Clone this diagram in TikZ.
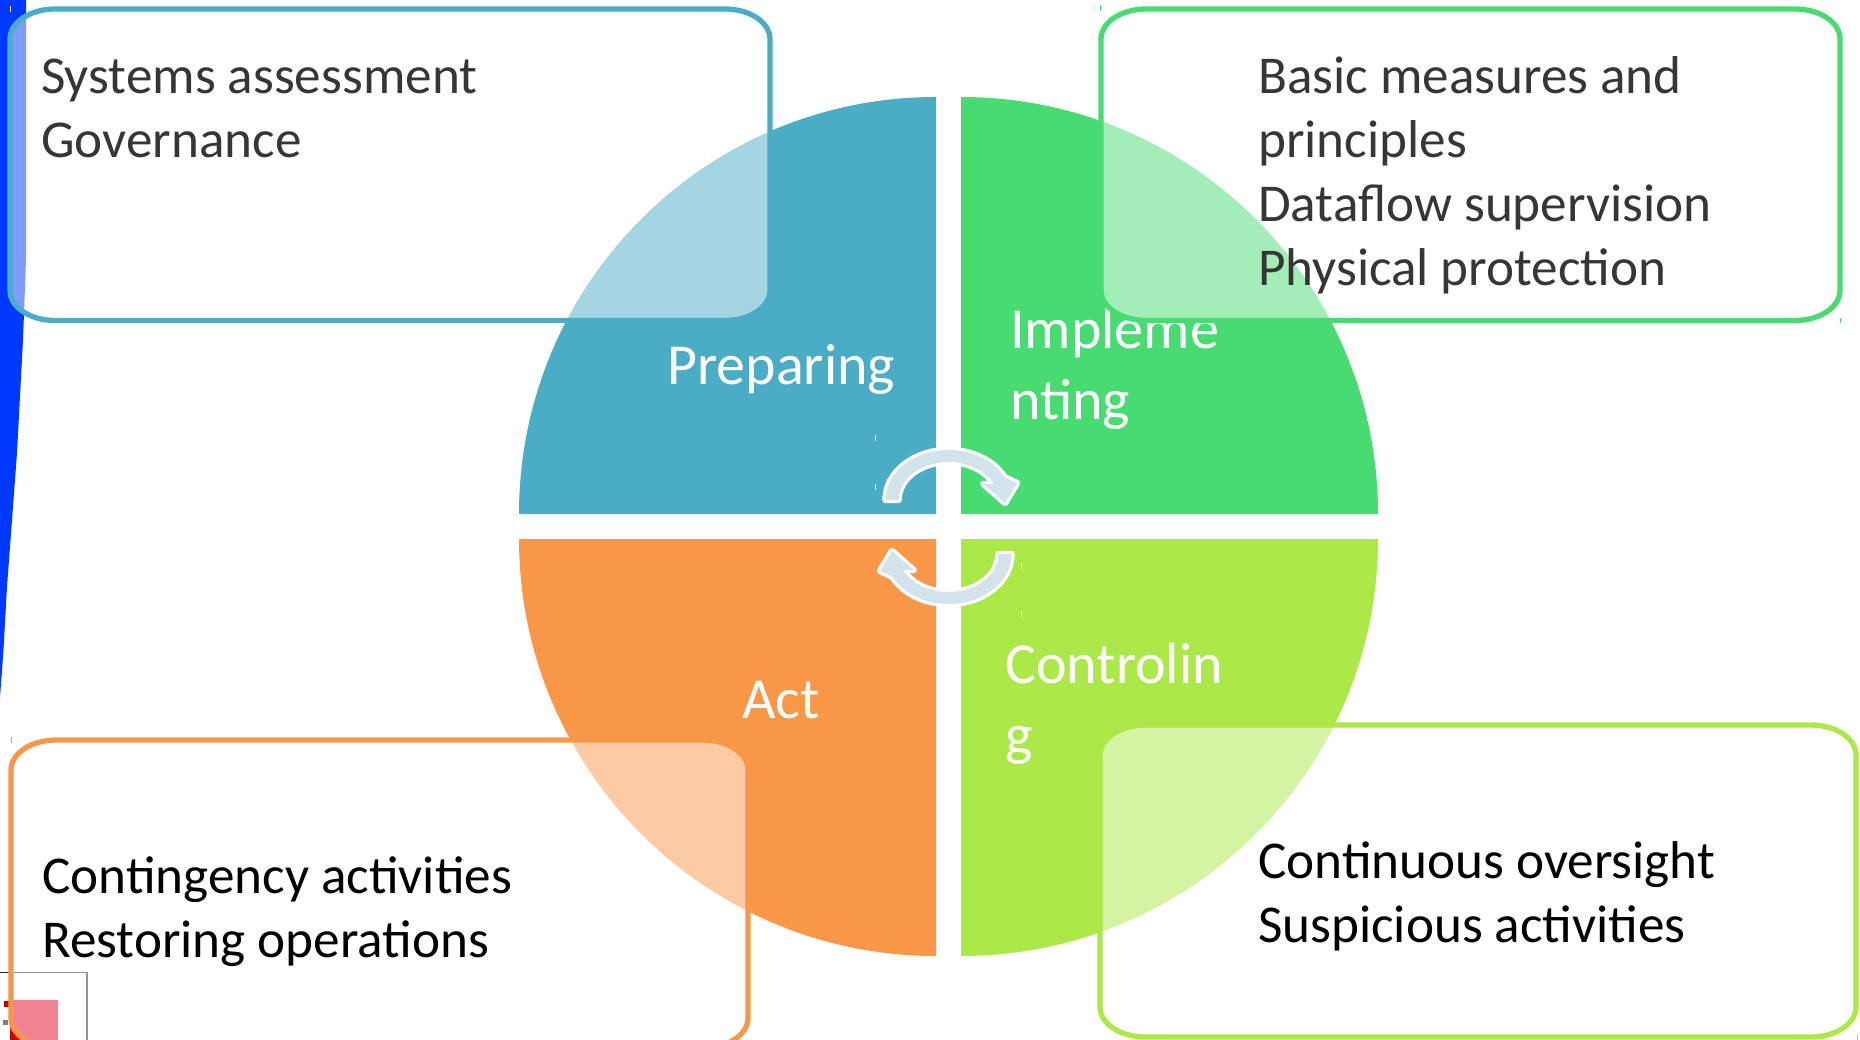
\documentclass[tikz,border=0pt]{standalone}
\usepackage{fontspec}
\setmainfont{Carlito}
\definecolor{cblue}{RGB}{75,172,198}
\definecolor{cgreen}{RGB}{72,219,114}
\definecolor{corange}{RGB}{249,151,72}
\definecolor{clime}{RGB}{172,233,72}
\definecolor{cstripe}{RGB}{0,56,252}
\definecolor{carrow}{RGB}{210,227,235}
\definecolor{ctext}{RGB}{54,54,54}
\definecolor{cpink}{RGB}{225,5,35}
\definecolor{cframe}{RGB}{40,40,40}
\tikzset{
  quadtext/.style={text=white,font=\fontsize{58}{71}\selectfont,align=left,anchor=north west,inner sep=0pt},
  boxtext/.style={font=\fontsize{53.2}{64}\selectfont,align=left,anchor=north west,inner sep=0pt},
  boxline/.style={line width=5.3pt,fill=white,fill opacity=0.5,draw opacity=1},
  cyclehalo/.style={draw=white,line width=6.5pt,line join=round},
  cyclefill/.style={fill=carrow},
  tick/.style={line width=1pt}
}
\newcommand{\softbox}[6]{% x0 y0 x1 y1 color name
  \draw[boxline,draw=#5] (#1+45,#2) -- (#3-45,#2) arc[start angle=270,end angle=360,x radius=45,y radius=30]
   -- (#3,#4-30) arc[start angle=0,end angle=90,x radius=45,y radius=30]
   -- (#1+45,#4) arc[start angle=90,end angle=180,x radius=45,y radius=30]
   -- (#1,#2+30) arc[start angle=180,end angle=270,x radius=45,y radius=30] -- cycle;
  \coordinate (#6) at (#1,#2);
}
\newcommand{\cyclepath}{
  (-63,-27) arc[start angle=180,end angle=333,x radius=63,y radius=50]
  -- (68.5,-44) -- (56.5,-24) -- (35,-43) -- (45.5,-42.8)
  arc[start angle=335.5,end angle=180,x radius=50,y radius=38]
  -- cycle
}
\begin{document}
\begin{tikzpicture}[x=1pt,y=-1pt]
\useasboundingbox (0,0) rectangle (1860,1040);
\clip (0,0) rectangle (1860,1040);
\fill[white] (0,0) rectangle (1860,1040);
% left stripe
\fill[cstripe] (0,0) -- (26,0) -- (26,260) -- (23,340) -- (17,453) -- (12,520) -- (7,587) -- (3.3,653) -- (0,697) -- cycle;
% corner thumbnail
\draw[cframe,line width=1.3pt] (0,972.5) -- (87,972.5) -- (87,1040);
\fill[cpink] (10,1000) rectangle (58,1040);
\fill[red!80!black] (4,1001) rectangle (9,1007);
\fill[gray] (3,1020) rectangle (8,1025);
\fill[red!80!black] (10,1032) rectangle (15,1040);
% quadrants
\fill[cblue] (936,514) -- (519,514) arc[start angle=180,end angle=270,radius=417] -- cycle;
\fill[cgreen] (961,514) -- (961,97) arc[start angle=270,end angle=360,radius=417] -- cycle;
\fill[clime] (961,539) -- (1378,539) arc[start angle=0,end angle=90,radius=417] -- cycle;
\fill[corange] (936,539) -- (936,956) arc[start angle=90,end angle=180,radius=417] -- cycle;
% quadrant labels
\node[quadtext] (qprep) at (667,344) {Preparing};
\node[quadtext] (qimpl) at (1010,308) {Impleme\\nting};
\node[quadtext] (qcont) at (1005,643) {Controlin\\g};
\node[quadtext] (qact) at (742,681) {Act};
% boxes
\softbox{10}{9}{770}{320.5}{cblue}{b1}
\softbox{1101}{9}{1840}{320.5}{cgreen}{b2}
\softbox{11}{740}{748}{1048}{corange}{b3}
\softbox{1100}{725}{1856}{1037}{clime}{b4}
% box text
\node[boxtext,text=ctext] (t1) at (41,59) {Systems assessment\\Governance};
\node[boxtext,text=ctext] (t2) at (1258,56.6) {Basic measures and\\principles\\Dataflow supervision\\Physical protection};
\node[boxtext,text=black] (t3) at (42,857) {Contingency activities\\Restoring operations};
\node[boxtext,text=black] (t4) at (1258,841) {Continuous oversight\\Suspicious activities};
% cycle arrows
\begin{scope}[shift={(948.5,527)}]
\path[cyclehalo] \cyclepath;
\path[cyclehalo,rotate=180] \cyclepath;
\path[cyclefill] \cyclepath;
\path[cyclefill,rotate=180] \cyclepath;
\end{scope}
% small handles
\draw[tick,white] (875.7,435) -- (875.7,441) (875.7,484) -- (875.7,490) (1021.7,563) -- (1021.7,569) (1021.7,611) -- (1021.7,617);
\draw[tick,white] (10,6) -- (10,12);
\draw[tick,cgreen] (1100.7,5) -- (1100.7,11) (1840.7,318) -- (1840.7,323);
\draw[tick,corange] (11,737) -- (11,743);
\draw[tick,clime] (1857,1034) -- (1857,1040);
\end{tikzpicture}
\end{document}
